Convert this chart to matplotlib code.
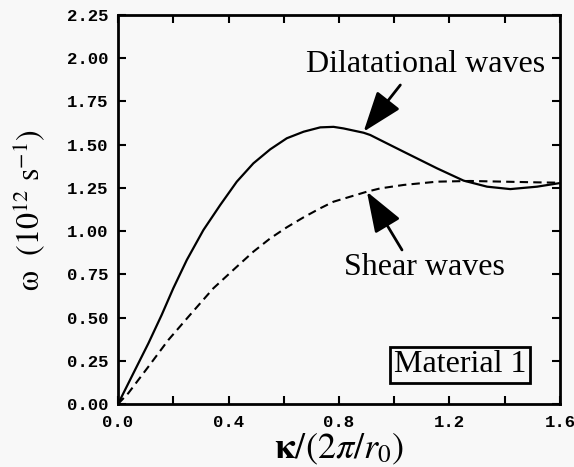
import numpy as np
import matplotlib
matplotlib.use("Agg")
import matplotlib.pyplot as plt
import matplotlib.ticker as mticker
from matplotlib.font_manager import FontProperties

# ── data ────────────────────────────────────────────────────────────────────
K_DIL = [0.0, 0.0616, 0.110, 0.158, 0.200, 0.249, 0.309, 0.370, 0.430, 0.490,
         0.551, 0.611, 0.672, 0.732, 0.780, 0.816, 0.889, 0.913, 0.949, 1.034,
         1.155, 1.251, 1.336, 1.42, 1.517, 1.60]
W_DIL = [0.0, 0.197, 0.351, 0.515, 0.669, 0.833, 1.006, 1.151, 1.286, 1.392,
         1.473, 1.537, 1.575, 1.600, 1.603, 1.594, 1.569, 1.556, 1.527, 1.459,
         1.363, 1.292, 1.257, 1.243, 1.257, 1.278]

K_SHEAR = [0.0, 0.037, 0.11, 0.182, 0.255, 0.345, 0.430, 0.490, 0.551, 0.611,
           0.672, 0.732, 0.78, 0.901, 0.949, 1.034, 1.155, 1.275, 1.396, 1.517,
           1.60]
W_SHEAR = [0.0, 0.062, 0.216, 0.370, 0.505, 0.669, 0.794, 0.881, 0.958, 1.022,
           1.080, 1.132, 1.170, 1.228, 1.247, 1.267, 1.286, 1.290, 1.286, 1.282,
           1.280]

X_TICKS = [0.0, 0.4, 0.8, 1.2, 1.6]
Y_TICKS = [0.00, 0.25, 0.50, 0.75, 1.00, 1.25, 1.50, 1.75, 2.00, 2.25]

# ── style ───────────────────────────────────────────────────────────────────
plt.rcParams.update({
    "font.family": "Liberation Serif",
    "mathtext.fontset": "stix",
    "figure.facecolor": "#f8f8f8",
    "axes.facecolor": "#f8f8f8",
})
TICK_FONT = FontProperties(family="Liberation Mono", weight="bold", size=12.5)
BIG = 23

fig = plt.figure(figsize=(5.74, 4.67), dpi=100)
ax = fig.add_axes([0.2056, 0.1349, 0.77, 0.833])

ax.plot(K_DIL, W_DIL, color="black", lw=1.6, solid_joinstyle="round")
ax.plot(K_SHEAR, W_SHEAR, color="black", lw=1.5, linestyle=(0, (4, 2.5)))

ax.set_xlim(0, 1.6)
ax.set_ylim(0, 2.25)
ax.xaxis.set_major_locator(mticker.FixedLocator(X_TICKS))
ax.xaxis.set_minor_locator(mticker.MultipleLocator(0.2))
ax.yaxis.set_major_locator(mticker.FixedLocator(Y_TICKS))
ax.xaxis.set_major_formatter(mticker.FormatStrFormatter("%.1f"))
ax.yaxis.set_major_formatter(mticker.FormatStrFormatter("%.2f"))
ax.tick_params(which="both", direction="in", top=True, right=True,
               length=6, width=1.5)
ax.tick_params(axis="x", pad=8)
ax.tick_params(axis="y", pad=7)
for lab in ax.get_xticklabels() + ax.get_yticklabels():
    lab.set_fontproperties(TICK_FONT)
for sp in ax.spines.values():
    sp.set_linewidth(2)

ax.set_xlabel(r"$\mathbf{\kappa}/(2\pi/r_0)$", fontsize=26, labelpad=1)
ax.set_ylabel(r"$\mathrm{\omega}\ \ (10^{12}\ \mathrm{s}^{-1})$", fontsize=BIG,
              labelpad=14)

# labels and their arrows
head = "-|>,head_length=1.25,head_width=0.45"
arrow = dict(arrowstyle=head, color="black", lw=2, mutation_scale=20,
             shrinkA=0, shrinkB=0)
ax.text(1.112, 1.961, "Dilatational waves", ha="center", va="center", fontsize=BIG)
ax.annotate("", xy=(0.889, 1.575), xytext=(1.022, 1.845), arrowprops=arrow)
ax.text(1.110, 0.787, "Shear waves", ha="center", va="center", fontsize=BIG)
ax.annotate("", xy=(0.901, 1.228), xytext=(1.028, 0.891), arrowprops=arrow)

ax.text(1.239, 0.226, "Material 1", ha="center", va="center", fontsize=BIG,
        bbox=dict(boxstyle="square,pad=0.12", facecolor="none",
                  edgecolor="black", linewidth=2))

fig.savefig("out.png", dpi=100, facecolor=fig.get_facecolor())
